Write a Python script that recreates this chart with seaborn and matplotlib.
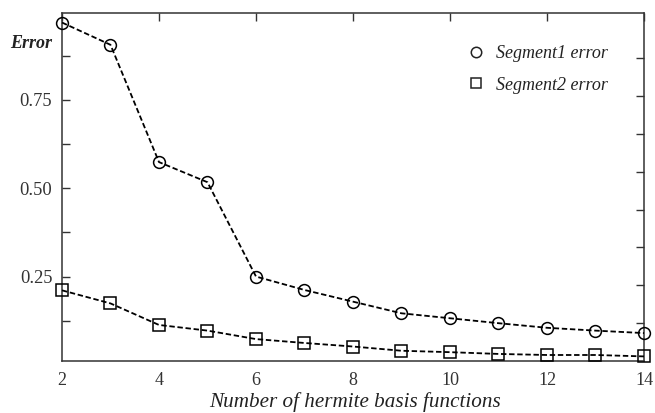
import numpy as np
import pandas as pd
import matplotlib
matplotlib.use("Agg")
import matplotlib.pyplot as plt
from matplotlib.lines import Line2D
import seaborn as sns

# Error versus number of Hermite basis functions
n_basis = [2, 3, 4, 5, 6, 7, 8, 9, 10, 11, 12, 13, 14]
segment1_error = [0.969, 0.906, 0.574, 0.517, 0.250, 0.212, 0.179, 0.146,
                  0.132, 0.118, 0.105, 0.097, 0.090]
segment2_error = [0.211, 0.174, 0.113, 0.097, 0.073, 0.062, 0.052, 0.040,
                  0.036, 0.031, 0.028, 0.028, 0.024]
series_names = ["Segment1 error", "Segment2 error"]
x_ticks = [2, 4, 6, 8, 10, 12, 14]
y_ticks = [0.25, 0.50, 0.75]
y_tick_labels = ["0.25", "0.50", "0.75"]

sns.set_theme(style="white")
plt.rcParams["font.family"] = ["Liberation Serif", "DejaVu Serif"]

df = pd.DataFrame({
    "n": n_basis * 2,
    "err": segment1_error + segment2_error,
    "series": [series_names[0]] * len(n_basis) + [series_names[1]] * len(n_basis),
})

fig = plt.figure(figsize=(6.55, 4.13), dpi=100)
ax = fig.add_axes([62 / 655, 52 / 413, 582 / 655, 348 / 413])

markers = {series_names[0]: "o", series_names[1]: "s"}
for name in series_names:
    sub = df[df["series"] == name]
    sns.lineplot(data=sub, x="n", y="err", ax=ax, color="black",
                 linestyle=(0, (3, 1.5)), linewidth=1.3,
                 marker=markers[name], markersize=8.5 if name == series_names[0] else 8,
                 markerfacecolor="none", markeredgecolor="black",
                 markeredgewidth=1.1, legend=False, clip_on=False, zorder=5)

ax.set_xlim(2, 14)
ax.set_ylim(0.011, 0.996)
ax.set_xticks(x_ticks)
ax.set_xticklabels([str(t) for t in x_ticks], fontsize=13)
ax.set_yticks(y_ticks)
ax.set_yticklabels(y_tick_labels, fontsize=13.3, color="#333333")
ax.set_yticks([0.125, 0.375, 0.625, 0.875], minor=True)
ax.tick_params(axis="both", which="both", direction="in", length=6, width=1,
               color="#333333", labelcolor="#333333")
ax.tick_params(axis="x", top=True, labeltop=False, pad=8)
ax.tick_params(axis="y", which="both", left=True, right=False, pad=7)
ax.set_xlabel("")
ax.set_ylabel("")
for sp in ax.spines.values():
    sp.set_color("#333333")
    sp.set_linewidth(1.1)

# right-hand axis with its own unlabeled tick spacing
ax2 = ax.twinx()
ax2.set_ylim(0, 9.19)
ax2.set_yticks(range(1, 9))
ax2.set_yticklabels([])
ax2.tick_params(axis="y", direction="in", length=6, width=1, color="#333333")
for sp in ax2.spines.values():
    sp.set_visible(False)

fig.text(52 / 655, 1 - 43 / 413, "Error", ha="right", va="center",
         fontsize=13, fontweight="bold", fontstyle="italic", color="#222222")
fig.text(355 / 655, 1 - 402 / 413, "Number of hermite basis functions",
         ha="center", va="center", fontsize=15.2, fontstyle="italic", color="#222222")

handles = [Line2D([], [], linestyle="none", marker=markers[n], markersize=7.5 if n == series_names[0] else 7,
                  markerfacecolor="none", markeredgecolor="#222222", markeredgewidth=1.1)
           for n in series_names]
leg = ax2.legend(handles, series_names, loc="upper left",
                 bbox_to_anchor=(467 / 655, 1 - 45 / 413), bbox_transform=fig.transFigure,
                 frameon=False, handlelength=1.0, handletextpad=0.6, labelspacing=0.82,
                 borderaxespad=0, borderpad=0,
                 prop={"family": "Liberation Serif", "style": "italic", "size": 13})
for t in leg.get_texts():
    t.set_color("#222222")

fig.savefig("out.png", dpi=100, facecolor="white")
